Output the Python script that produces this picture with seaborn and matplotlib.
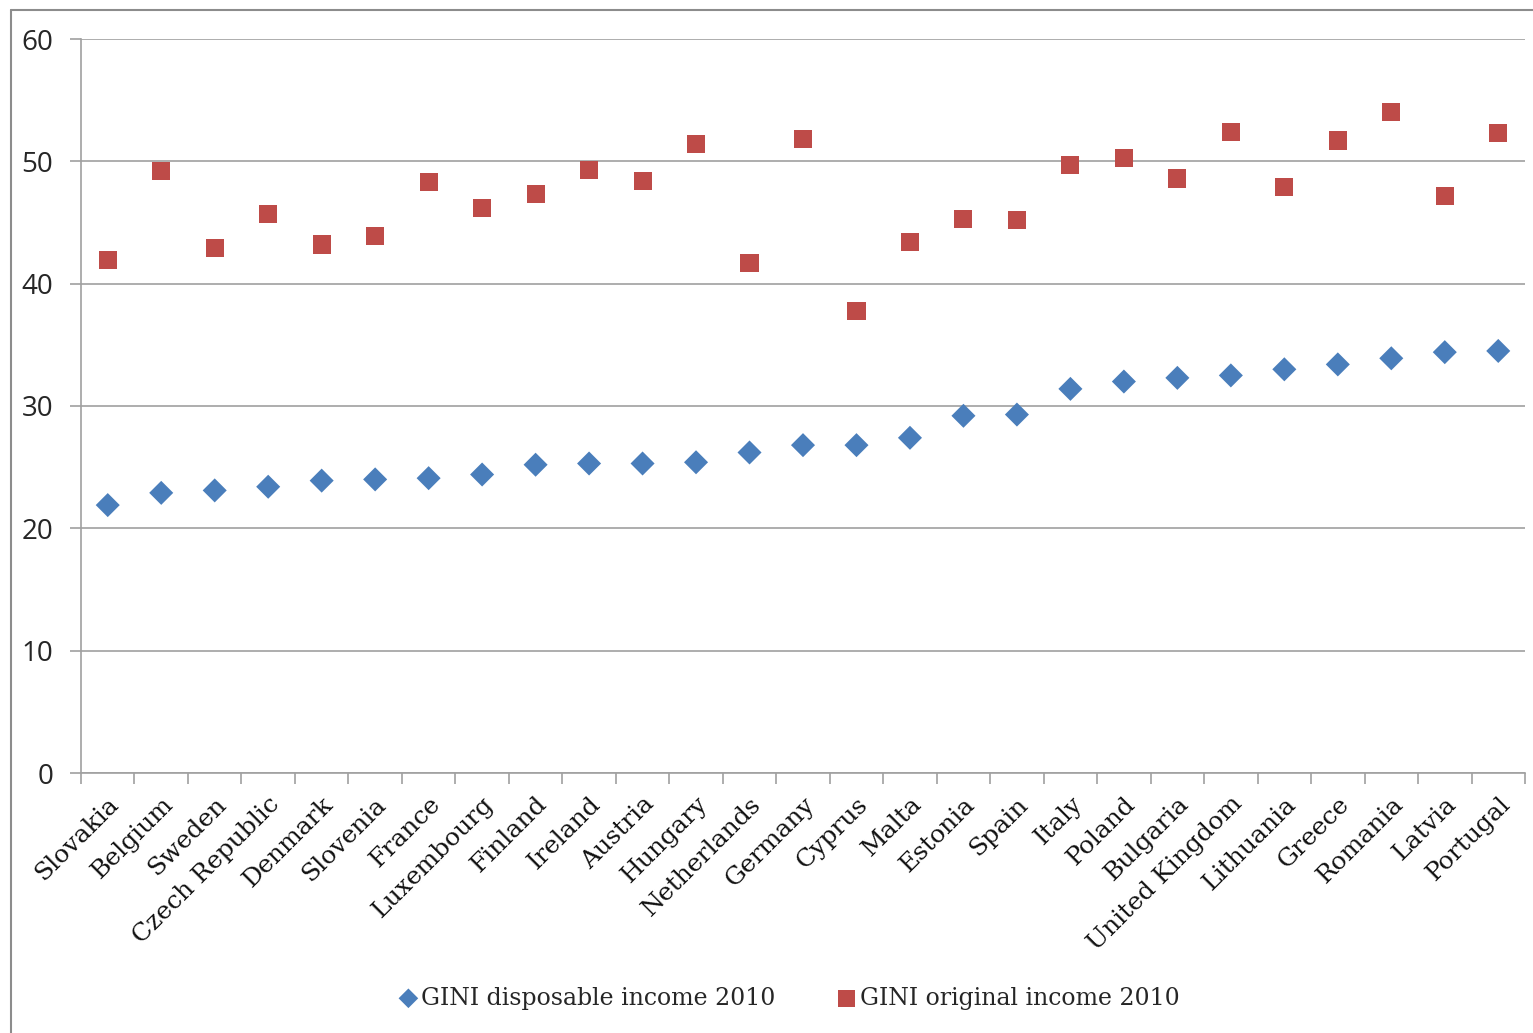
import matplotlib
matplotlib.use("Agg")
import matplotlib.pyplot as plt
from matplotlib.lines import Line2D
from matplotlib.ticker import FixedLocator
import seaborn as sns
import pandas as pd

countries = ["Slovakia", "Belgium", "Sweden", "Czech Republic", "Denmark", "Slovenia",
             "France", "Luxembourg", "Finland", "Ireland", "Austria", "Hungary",
             "Netherlands", "Germany", "Cyprus", "Malta", "Estonia", "Spain", "Italy",
             "Poland", "Bulgaria", "United Kingdom", "Lithuania", "Greece", "Romania",
             "Latvia", "Portugal"]
gini_disposable = [21.9, 22.9, 23.1, 23.4, 23.9, 24.0, 24.1, 24.4, 25.2, 25.3, 25.3, 25.4,
                   26.2, 26.8, 26.8, 27.4, 29.2, 29.3, 31.4, 32.0, 32.3, 32.5, 33.0, 33.4,
                   33.9, 34.4, 34.5]
gini_original = [41.9, 49.2, 42.9, 45.7, 43.2, 43.9, 48.3, 46.2, 47.3, 49.3, 48.4, 51.4,
                 41.7, 51.8, 37.8, 43.4, 45.3, 45.2, 49.7, 50.3, 48.6, 52.4, 47.9, 51.7,
                 54.0, 47.2, 52.3]
series_names = ["GINI disposable income 2010", "GINI original income 2010"]
y_ticks = [0, 10, 20, 30, 40, 50, 60]

df = pd.DataFrame({
    "country": countries * 2,
    "value": gini_disposable + gini_original,
    "series": [series_names[0]] * len(countries) + [series_names[1]] * len(countries),
})

sns.set_theme(style="white")
plt.rcParams["font.family"] = ["DejaVu Serif"]

fig = plt.figure(figsize=(15.33, 10.33), dpi=100)
ax = fig.add_axes([81 / 1533, 1 - 773 / 1033, (1525 - 81) / 1533, (773 - 39) / 1033])

colors = {series_names[0]: "#4A7EBB", series_names[1]: "#BE4B48"}
markers = {series_names[0]: "D", series_names[1]: "s"}
for name in series_names:
    sub = df[df["series"] == name]
    sns.scatterplot(data=sub, x="country", y="value", color=colors[name],
                    marker=markers[name], s=170 if name == series_names[1] else 150,
                    edgecolor="none", linewidth=0, ax=ax, label=name, zorder=3)

ax.set_xlim(-0.5, len(countries) - 0.5)
ax.set_ylim(0, 60)
ax.set_yticks(y_ticks)
ax.set_yticklabels([str(t) for t in y_ticks], family=["Open Sans", "DejaVu Sans"], fontsize=20)
ax.yaxis.grid(True, color="#A0A0A0", linewidth=1.2)
ax.set_axisbelow(True)
ax.set_xlabel("")
ax.set_ylabel("")

ax.set_xticks(range(len(countries)))
ax.set_xticklabels(countries, rotation=45, ha="right", rotation_mode="anchor",
                   fontsize=18, color="#111111")
ax.xaxis.set_minor_locator(FixedLocator([i - 0.5 for i in range(len(countries) + 1)]))
ax.tick_params(axis="x", which="major", length=0, pad=14)
ax.tick_params(axis="x", which="minor", length=8, width=1.2, color="#A0A0A0", direction="out", bottom=True)
ax.tick_params(axis="y", which="major", length=8, width=1.2, color="#A0A0A0", direction="out", left=True, pad=12)

for side in ["top", "right"]:
    ax.spines[side].set_visible(False)
for side in ["left", "bottom"]:
    ax.spines[side].set_color("#A0A0A0")
    ax.spines[side].set_linewidth(1.2)

handles, labels = ax.get_legend_handles_labels()
ax.legend_.remove()
leg = fig.legend(handles, labels, loc="center", bbox_to_anchor=(0.514, 1 - 998 / 1033),
                 ncol=2, frameon=False, fontsize=17, columnspacing=2.5,
                 handletextpad=0.05, handlelength=1.0)
leg.legend_handles[0].set_sizes([100])
leg.legend_handles[1].set_sizes([150])

# outer chart frame (left and top edges)
fig.add_artist(Line2D([11 / 1533, 11 / 1533], [0, 1 - 10 / 1033], transform=fig.transFigure,
                      color="#8C8C8C", linewidth=1.5))
fig.add_artist(Line2D([11 / 1533, 1], [1 - 10 / 1033, 1 - 10 / 1033], transform=fig.transFigure,
                      color="#8C8C8C", linewidth=1.5))

fig.savefig("out.png", dpi=100)
